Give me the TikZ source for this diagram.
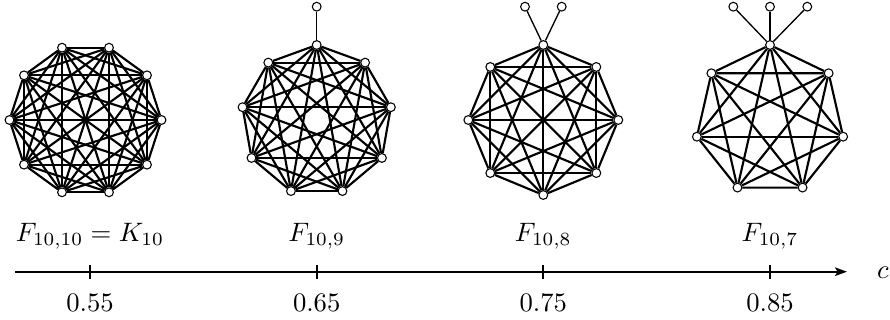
\documentclass[tikz,border=0pt]{standalone}
\usetikzlibrary{arrows.meta}
\begin{document}
\begin{tikzpicture}[x=0.375pt,y=-0.375pt,
  vtx/.style={circle,draw,fill=white,inner sep=0pt,minimum size=3.3pt,line width=0.4pt},
  edge/.style={line width=0.8pt},
  pend/.style={line width=0.5pt},
  axisline/.style={line width=0.8pt,-{Stealth[length=4.5pt,width=3.2pt,inset=1pt]}},
  tickmark/.style={line width=0.8pt},
  lbl/.style={anchor=base,inner sep=0pt}]
\useasboundingbox (0,0) rectangle (890,320);

% K10
\foreach \i in {1,...,10}
  \node[vtx] (a\i) at ({85.5+76*cos(36*(\i-1))},{120-76*sin(36*(\i-1))}) {};
\foreach \i in {1,...,9}{
  \pgfmathtruncatemacro\nxt{\i+1}
  \foreach \j in {\nxt,...,10}{\draw[edge] (a\i) -- (a\j);}
}

% F10,9
\foreach \i in {1,...,9}
  \node[vtx] (b\i) at ({316.7+75.3*cos(90+40*(\i-1))},{120.3-75.3*sin(90+40*(\i-1))}) {};
\foreach \i in {1,...,8}{
  \pgfmathtruncatemacro\nxt{\i+1}
  \foreach \j in {\nxt,...,9}{\draw[edge] (b\i) -- (b\j);}
}
\node[vtx] (bp1) at (316.7,6.7) {};
\draw[pend] (b1) -- (bp1);

% F10,8
\foreach \i in {1,...,8}
  \node[vtx] (c\i) at ({543.3+75*cos(90+45*(\i-1))},{120-75*sin(90+45*(\i-1))}) {};
\foreach \i in {1,...,7}{
  \pgfmathtruncatemacro\nxt{\i+1}
  \foreach \j in {\nxt,...,8}{\draw[edge] (c\i) -- (c\j);}
}
\node[vtx] (cp1) at (525,6.7) {};
\node[vtx] (cp2) at (561.7,6.7) {};
\draw[pend] (c1) -- (cp1);
\draw[pend] (c1) -- (cp2);

% F10,7
\foreach \i in {1,...,7}
  \node[vtx] (d\i) at ({770+75*cos(90+360/7*(\i-1))},{120-75*sin(90+360/7*(\i-1))}) {};
\foreach \i in {1,...,6}{
  \pgfmathtruncatemacro\nxt{\i+1}
  \foreach \j in {\nxt,...,7}{\draw[edge] (d\i) -- (d\j);}
}
\node[vtx] (dp1) at (733.3,6.7) {};
\node[vtx] (dp2) at (770,6.7) {};
\node[vtx] (dp3) at (807.3,6.7) {};
\draw[pend] (d1) -- (dp1);
\draw[pend] (d1) -- (dp2);
\draw[pend] (d1) -- (dp3);

% labels
\node[lbl] (l1) at (90,241.7) {$F_{10,10}=K_{10}$};
\node[lbl] (l2) at (316.7,241.7) {$F_{10,9}$};
\node[lbl] (l3) at (543.3,241.7) {$F_{10,8}$};
\node[lbl] (l4) at (770,241.7) {$F_{10,7}$};

% axis
\coordinate (axs) at (15,271.7);
\coordinate (axe) at (847,271.7);
\draw[axisline] (axs) -- (axe);
\foreach \x/\n in {90/t1,316.7/t2,543.3/t3,770/t4}{
  \coordinate (\n a) at (\x,264.7);
  \coordinate (\n b) at (\x,278.7);
  \draw[tickmark] (\n a) -- (\n b);
}
\node[lbl] (n1) at (90,311.7) {$0.55$};
\node[lbl] (n2) at (316.7,311.7) {$0.65$};
\node[lbl] (n3) at (543.3,311.7) {$0.75$};
\node[lbl] (n4) at (770,311.7) {$0.85$};
\node[lbl] (cl) at (883,278) {$c$};
\end{tikzpicture}
\end{document}
